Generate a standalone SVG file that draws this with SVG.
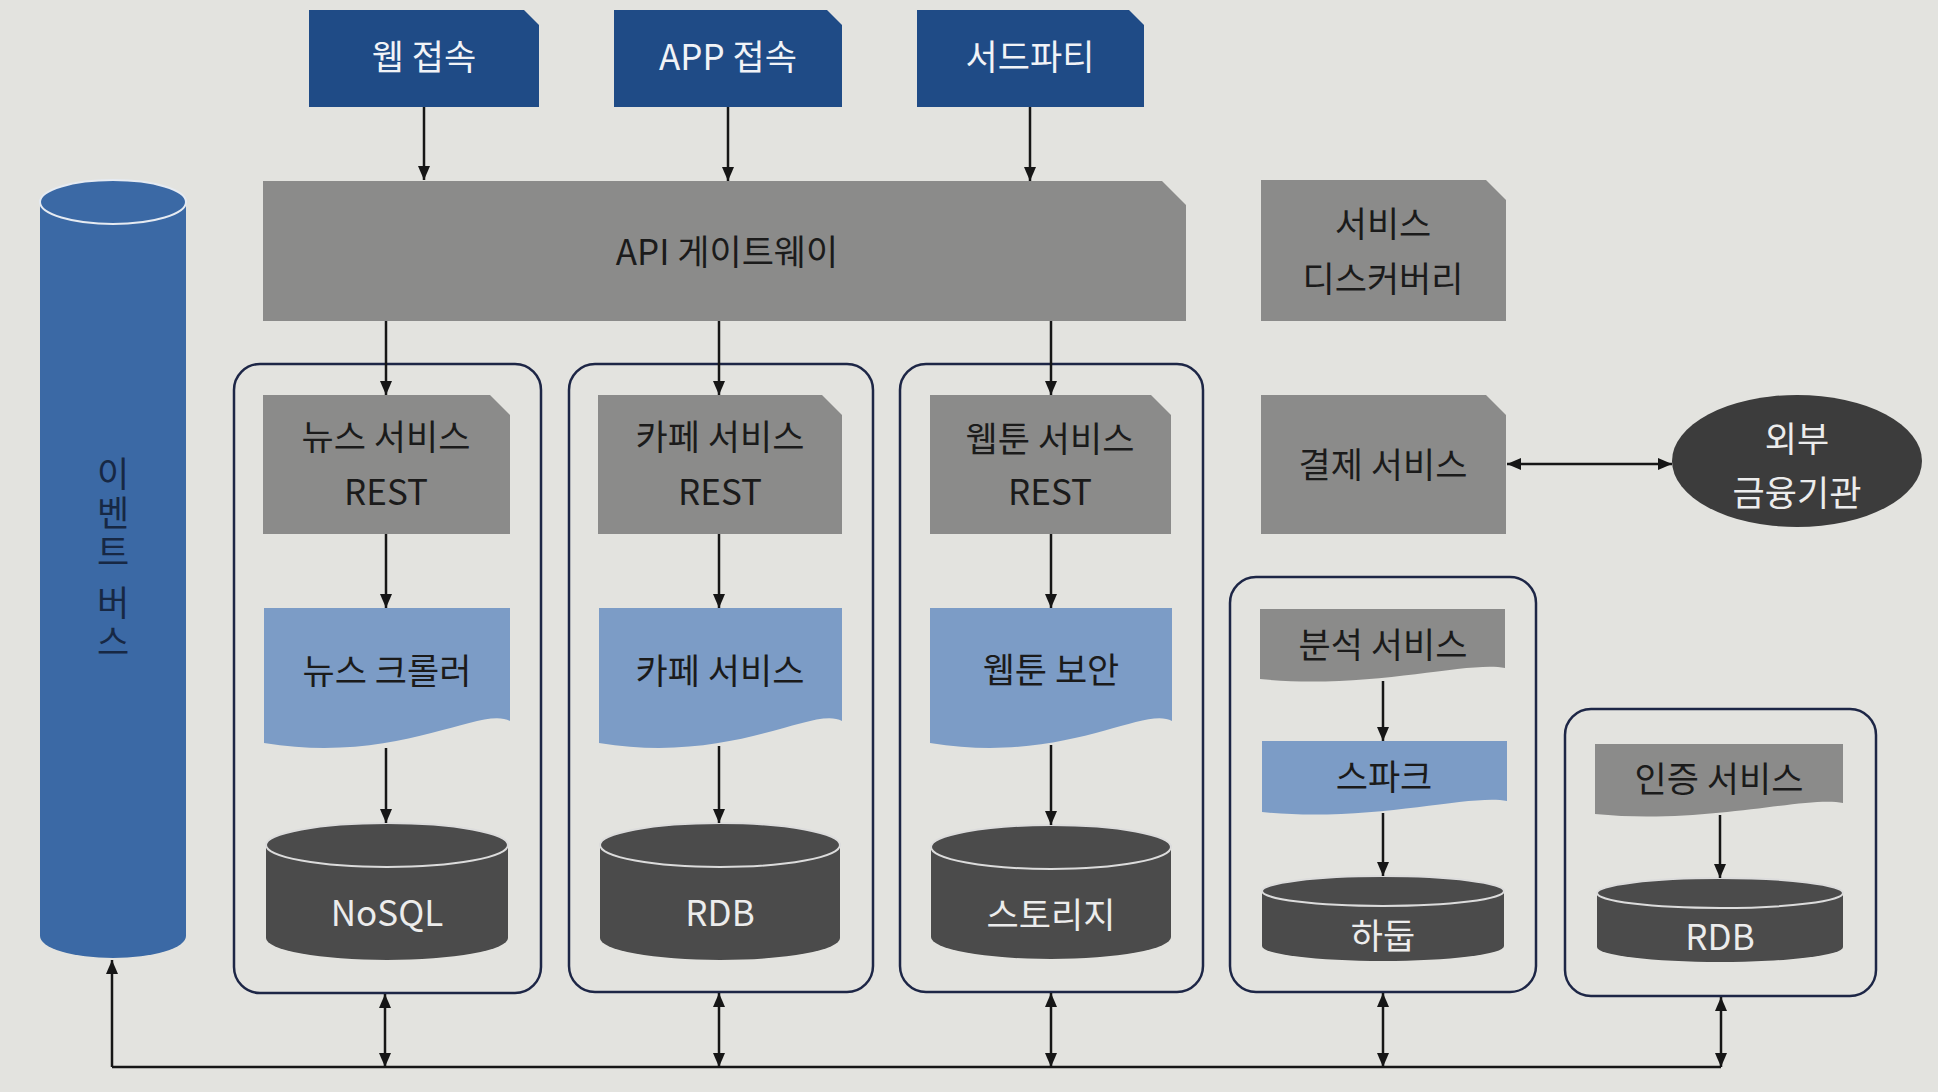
<svg xmlns="http://www.w3.org/2000/svg" width="1938" height="1092" viewBox="0 0 1938 1092">
<style>
text{font-family:"Noto Sans CJK KR","Noto Sans",sans-serif;font-size:35px;text-anchor:middle}
.navy{fill:#1f4b86}
.gray{fill:#8b8b8a}
.blue{fill:#7c9cc6}
.dark{fill:#4b4b4b}
.rim{fill:none;stroke:#dcdcdc;stroke-width:2}
.grp{fill:none;stroke:#1d2646;stroke-width:2.5}
.tw{fill:#f1f3f7}
.tk{fill:#1b1b1b}
.tl{fill:#ececec}
.cn{fill:none;stroke:#161616;stroke-width:2.5}
</style>
<defs>
<marker id="ah" viewBox="0 0 14 12" refX="14" refY="6" markerWidth="14" markerHeight="12" markerUnits="userSpaceOnUse" orient="auto-start-reverse">
<path d="M0,0 L14,6 L0,12 z" fill="#161616"/>
</marker>
</defs>
<rect x="0" y="0" width="1938" height="1092" fill="#e3e3df"/>

<g id="eventbus">
<path d="M40,202 V936 A73,22 0 0 0 186,936 V202 A73,22 0 0 0 40,202 Z" fill="#3b69a5"/>
<ellipse cx="113" cy="202" rx="73" ry="22" fill="#3b69a5" stroke="#e6ebf2" stroke-width="2"/>
<text fill="#172844" x="113" y="456" style="writing-mode:vertical-rl;text-anchor:start;letter-spacing:4px">이벤트 버스</text>
</g>

<g id="web">
<path class="navy" d="M309,10 H524 L539,25 V107 H309 Z"/>
<text class="tw" x="424" y="70">웹 접속</text>
</g>
<g id="app">
<path class="navy" d="M614,10 H827 L842,25 V107 H614 Z"/>
<text class="tw" x="728" y="70">APP 접속</text>
</g>
<g id="third">
<path class="navy" d="M917,10 H1129 L1144,25 V107 H917 Z"/>
<text class="tw" x="1030" y="70">서드파티</text>
</g>

<g id="gateway">
<path class="gray" d="M263,181 H1162 L1186,205 V321 H263 Z"/>
<text class="tk" x="727" y="265">API 게이트웨이</text>
</g>
<g id="discovery">
<path class="gray" d="M1261,180 H1486 L1506,200 V321 H1261 Z"/>
<text class="tk" x="1383" y="237">서비스</text>
<text class="tk" x="1383" y="292">디스커버리</text>
</g>

<g id="group-news">
<rect class="grp" x="234" y="364" width="307" height="629" rx="26"/>
<path class="gray" d="M263,395 H490 L510,415 V534 H263 Z"/>
<text class="tk" x="386" y="450">뉴스 서비스</text>
<text class="tk" x="386" y="505">REST</text>
<path class="blue" d="M264,608 H510 V721 C480,705 400,765 264,743 Z"/>
<text class="tk" x="387" y="684">뉴스 크롤러</text>
<path class="dark" d="M266,845 V938 A121,22 0 0 0 508,938 V845 A121,22 0 0 0 266,845 Z"/>
<ellipse class="rim" cx="387" cy="845" rx="121" ry="22"/>
<text class="tl" x="387" y="926">NoSQL</text>
</g>

<g id="group-cafe">
<rect class="grp" x="569" y="364" width="304" height="628" rx="26"/>
<path class="gray" d="M598,395 H822 L842,415 V534 H598 Z"/>
<text class="tk" x="720" y="450">카페 서비스</text>
<text class="tk" x="720" y="505">REST</text>
<path class="blue" d="M599,608 H842 V721 C813,705 734,765 599,743 Z"/>
<text class="tk" x="720" y="684">카페 서비스</text>
<path class="dark" d="M600,845 V938 A120,22 0 0 0 840,938 V845 A120,22 0 0 0 600,845 Z"/>
<ellipse class="rim" cx="720" cy="845" rx="120" ry="22"/>
<text class="tl" x="720" y="926">RDB</text>
</g>

<g id="group-webtoon">
<rect class="grp" x="900" y="364" width="303" height="628" rx="26"/>
<path class="gray" d="M930,395 H1151 L1171,415 V534 H930 Z"/>
<text class="tk" x="1050" y="452">웹툰 서비스</text>
<text class="tk" x="1050" y="505">REST</text>
<path class="blue" d="M930,608 H1172 V721 C1143,705 1065,765 930,743 Z"/>
<text class="tk" x="1051" y="683">웹툰 보안</text>
<path class="dark" d="M931,847 V937 A120,22 0 0 0 1171,937 V847 A120,22 0 0 0 931,847 Z"/>
<ellipse class="rim" cx="1051" cy="847" rx="120" ry="22"/>
<text class="tl" x="1051" y="928">스토리지</text>
</g>

<g id="payment">
<path class="gray" d="M1261,395 H1486 L1506,415 V534 H1261 Z"/>
<text class="tk" x="1383" y="478">결제 서비스</text>
</g>
<g id="external">
<ellipse cx="1797" cy="461" rx="125" ry="66" fill="#3c3c3c"/>
<text class="tl" x="1797" y="452">외부</text>
<text class="tl" x="1797" y="506">금융기관</text>
</g>

<g id="group-analytics">
<rect class="grp" x="1230" y="577" width="306" height="415" rx="26"/>
<path class="gray" d="M1260,609 H1505 V668 C1470,660 1370,690 1260,679 Z"/>
<text class="tk" x="1383" y="658">분석 서비스</text>
<path class="blue" d="M1262,741 H1507 V801 C1472,793 1372,823 1262,812 Z"/>
<text class="tk" x="1384" y="790">스파크</text>
<path class="dark" d="M1262,891 V946 A121,15 0 0 0 1504,946 V891 A121,15 0 0 0 1262,891 Z"/>
<ellipse class="rim" cx="1383" cy="891" rx="121" ry="15"/>
<text class="tl" x="1383" y="949">하둡</text>
</g>

<g id="group-auth">
<rect class="grp" x="1565" y="709" width="311" height="287" rx="26"/>
<path class="gray" d="M1595,744 H1843 V803 C1808,795 1706,825 1595,814 Z"/>
<text class="tk" x="1719" y="792">인증 서비스</text>
<path class="dark" d="M1597,893 V947 A123,15 0 0 0 1843,947 V893 A123,15 0 0 0 1597,893 Z"/>
<ellipse class="rim" cx="1720" cy="893" rx="123" ry="15"/>
<text class="tl" x="1720" y="950">RDB</text>
</g>

<g id="connectors">
<path class="cn" d="M424,107 V180" marker-end="url(#ah)"/>
<path class="cn" d="M728,107 V181" marker-end="url(#ah)"/>
<path class="cn" d="M1030,107 V181" marker-end="url(#ah)"/>
<path class="cn" d="M386,321 V395" marker-end="url(#ah)"/>
<path class="cn" d="M719,321 V395" marker-end="url(#ah)"/>
<path class="cn" d="M1051,321 V395" marker-end="url(#ah)"/>
<path class="cn" d="M386,534 V608" marker-end="url(#ah)"/>
<path class="cn" d="M719,534 V608" marker-end="url(#ah)"/>
<path class="cn" d="M1051,534 V608" marker-end="url(#ah)"/>
<path class="cn" d="M386,748 V823" marker-end="url(#ah)"/>
<path class="cn" d="M719,746 V823" marker-end="url(#ah)"/>
<path class="cn" d="M1051,745 V825" marker-end="url(#ah)"/>
<path class="cn" d="M1383,681 V741" marker-end="url(#ah)"/>
<path class="cn" d="M1383,813 V876" marker-end="url(#ah)"/>
<path class="cn" d="M1720,815 V878" marker-end="url(#ah)"/>
<path class="cn" d="M1507,464 H1672" marker-start="url(#ah)" marker-end="url(#ah)"/>
<path class="cn" d="M112,1067 H1721"/>
<path class="cn" d="M112,1067 V960" marker-end="url(#ah)"/>
<path class="cn" d="M385,994 V1067" marker-start="url(#ah)" marker-end="url(#ah)"/>
<path class="cn" d="M719,993 V1067" marker-start="url(#ah)" marker-end="url(#ah)"/>
<path class="cn" d="M1051,993 V1067" marker-start="url(#ah)" marker-end="url(#ah)"/>
<path class="cn" d="M1383,993 V1067" marker-start="url(#ah)" marker-end="url(#ah)"/>
<path class="cn" d="M1721,997 V1067" marker-start="url(#ah)" marker-end="url(#ah)"/>
</g>
</svg>
